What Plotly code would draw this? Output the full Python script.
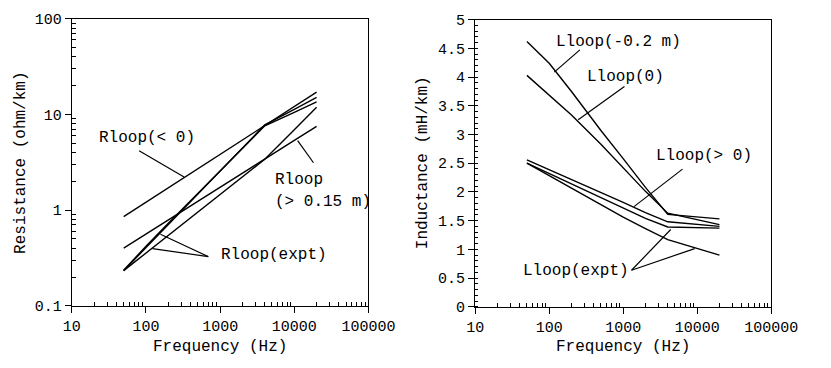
import plotly.graph_objects as go

# ---------------- data ----------------
freq_R = [50, 100, 200, 500, 1000, 2000, 4000, 10000, 20000]
R_lt0 = [0.857, 1.21, 1.71, 2.71, 3.84, 5.43, 7.68, 12.1, 17.1]
R_gt015 = [0.40, 0.56, 0.785, 1.23, 1.73, 2.43, 3.41, 5.35, 7.5]
R_expt1 = [0.233, 0.406, 0.708, 1.47, 2.56, 4.47, 7.78, 11.3, 15.1]
R_expt2 = [0.233, 0.356, 0.545, 0.953, 1.45, 2.22, 3.4, 6.93, 11.9]
R_other = [0.235, 0.42, 0.73, 1.5, 2.6, 4.5, 7.6, 10.5, 13.5]

freq_L = [50, 100, 200, 500, 1000, 2000, 4000, 20000]
L_m02 = [4.62, 4.24, 3.75, 3.07, 2.58, 2.08, 1.61, 1.53]
L_0 = [4.03, 3.69, 3.34, 2.83, 2.42, 2.01, 1.63, 1.43]
L_gt0 = [2.56, 2.39, 2.22, 1.99, 1.82, 1.64, 1.48, 1.40]
L_expt1 = [2.50, 2.32, 2.13, 1.89, 1.71, 1.54, 1.39, 1.37]
L_expt2 = [2.50, 2.28, 2.07, 1.78, 1.56, 1.36, 1.17, 0.90]

x_tickvals = [10, 100, 1000, 10000, 100000]
x_ticktext = ["10", "100", "1000", "10000", "100000"]
yR_tickvals = [0.1, 1, 10, 100]
yR_ticktext = ["0.1", "1", "10", "100"]
yL_tickvals = [0, 0.5, 1, 1.5, 2, 2.5, 3, 3.5, 4, 4.5, 5]
yL_ticktext = ["0", "0.5", "1", "1.5", "2", "2.5", "3", "3.5", "4", "4.5", "5"]

W, H = 831, 368
FONT = "Liberation Mono, Courier New, monospace"
LW = 1.4


def px(x):
    return x / W


def py(y):
    return 1 - y / H


fig = go.Figure()
for ys in [R_lt0, R_gt015, R_expt1, R_expt2, R_other]:
    fig.add_trace(go.Scatter(x=freq_R, y=ys, mode="lines", xaxis="x", yaxis="y",
                             line=dict(color="black", width=LW), showlegend=False))
for ys in [L_m02, L_0, L_gt0, L_expt1, L_expt2]:
    fig.add_trace(go.Scatter(x=freq_L, y=ys, mode="lines", xaxis="x2", yaxis="y2",
                             line=dict(color="black", width=LW), showlegend=False))

minor_log = [m * 10 ** k for k in range(1, 5) for m in range(2, 10)]
minor_logy = [m * 10 ** k for k in range(-1, 2) for m in range(2, 10)]

axis_common = dict(showline=True, linecolor="black", linewidth=1.2, mirror=True,
                   ticks="outside", ticklen=6, tickcolor="black", tickwidth=1,
                   showgrid=False, zeroline=False,
                   tickfont=dict(family=FONT, size=15, color="black"))

fig.update_layout(
    width=W, height=H,
    margin=dict(l=0, r=0, t=0, b=0),
    paper_bgcolor="white", plot_bgcolor="white",
    xaxis=dict(domain=[px(65.7), px(375.7)], type="log", range=[1, 5],
               tickmode="array", tickvals=x_tickvals, ticktext=x_ticktext,
               minor=dict(tickmode="array", tickvals=minor_log, ticks="inside", ticklen=4,
                          tickcolor="black", showgrid=False),
               anchor="y", **axis_common),
    yaxis=dict(domain=[py(313.3), py(12.3)], type="log", range=[-1, 2],
               tickmode="array", tickvals=yR_tickvals, ticktext=yR_ticktext,
               minor=dict(tickmode="array", tickvals=minor_logy, ticks="inside", ticklen=4,
                          tickcolor="black", showgrid=False),
               anchor="x", **axis_common),
    xaxis2=dict(domain=[px(487.3), px(796.7)], type="log", range=[1, 5],
                tickmode="array", tickvals=x_tickvals, ticktext=x_ticktext,
                minor=dict(tickmode="array", tickvals=minor_log, ticks="inside", ticklen=4,
                           tickcolor="black", showgrid=False),
                anchor="y2", **axis_common),
    yaxis2=dict(domain=[py(314.3), py(13.3)], range=[0, 5],
                tickmode="array", tickvals=yL_tickvals, ticktext=yL_ticktext,
                minor=dict(dtick=0.1, ticks="inside", ticklen=3,
                           tickcolor="black", showgrid=False),
                anchor="x2", **axis_common),
)


def text(x, y, s, anchor="left", angle=0, size=16):
    fig.add_annotation(x=px(x), y=py(y), xref="paper", yref="paper", text=s,
                       showarrow=False, xanchor=anchor, yanchor="middle", textangle=angle,
                       font=dict(family=FONT, size=size, color="black"))


def pointer(x0, y0, x1, y1, color="black"):
    fig.add_shape(type="line", xref="paper", yref="paper",
                  x0=px(x0), y0=py(y0), x1=px(x1), y1=py(y1),
                  line=dict(color=color, width=1.2))


# axis titles
text(221, 356.7, "Frequency (Hz)", anchor="center")
text(642, 356.7, "Frequency (Hz)", anchor="center")
text(13, 163, "Resistance (ohm/km)", anchor="center", angle=-90)
text(433.5, 163, "Inductance (mH/km)", anchor="center", angle=-90)

# left labels
text(91.5, 137, "Rloop(< 0)")
pointer(136, 150.7, 183, 178.3)
text(276, 181.7, "Rloop")
text(276, 204, "(> 0.15 m)")
pointer(318.3, 163.3, 301.7, 140)
text(219, 260, "Rloop(expt)")
pointer(208.3, 261.7, 158.3, 238.3)
pointer(208.3, 261.7, 150, 253.3)

# right labels
text(569.3, 36.7, "Lloop(-0.2 m)")
pointer(596.7, 45, 570, 68.3)
text(601.7, 73.3, "Lloop(0)")
pointer(643.3, 83.3, 595, 118.3)
text(674, 156.7, "Lloop(> 0)")
pointer(704, 170, 653.3, 209.3)
text(535, 276.7, "Lloop(expt)")
pointer(650.7, 276, 691.7, 233.3)
pointer(650.7, 276, 716.7, 253.3)

fig.write_html("out.html", config={"displayModeBar": False},
               post_script="document.body.style.margin='0';"
                           "document.documentElement.style.overflow='hidden';")
